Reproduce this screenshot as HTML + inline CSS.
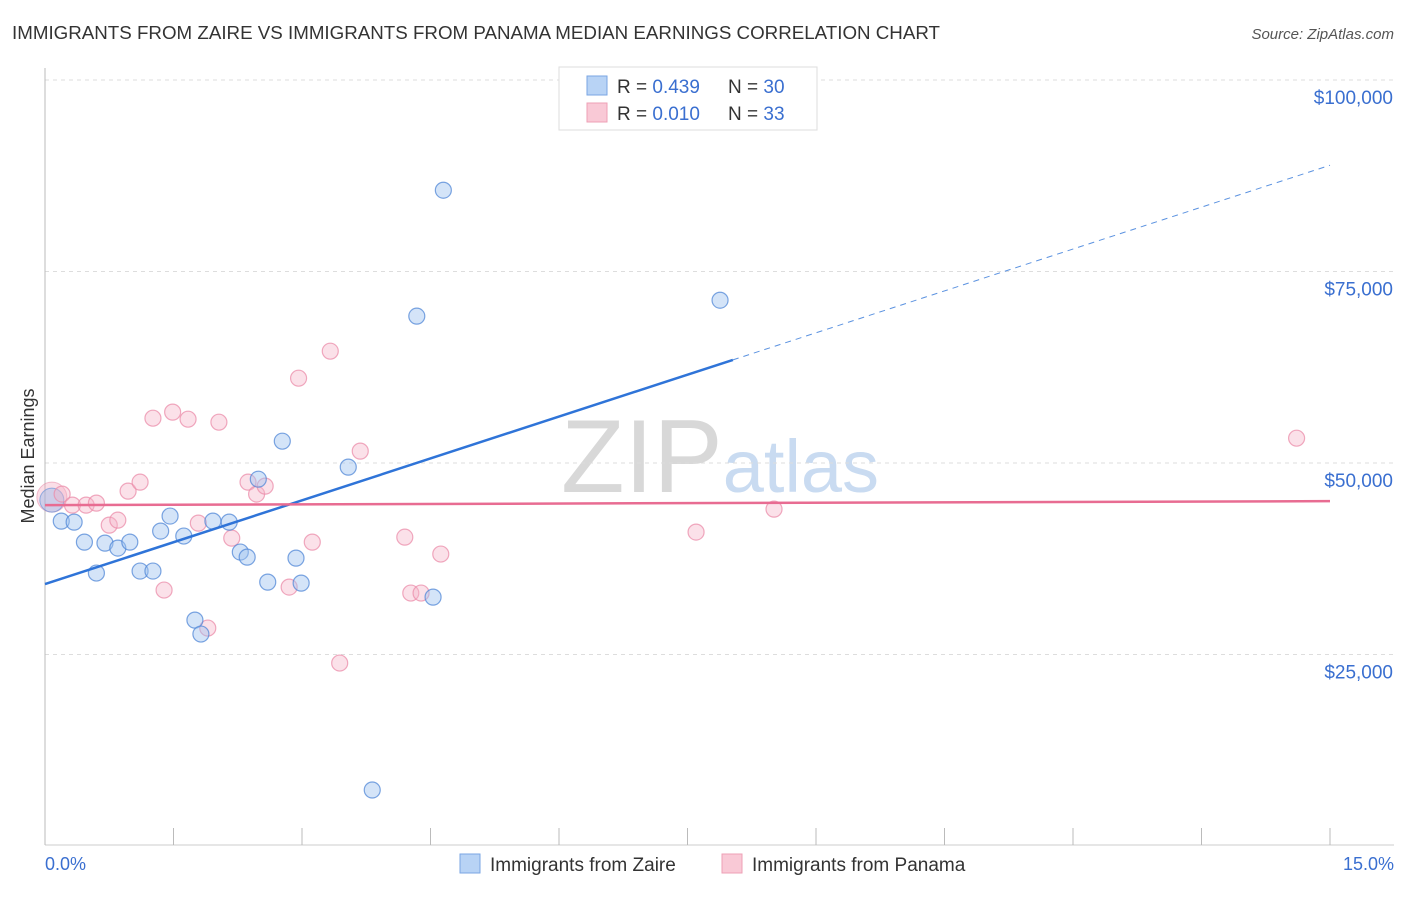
<!DOCTYPE html>
<html><head><meta charset="utf-8">
<style>
body{margin:0;background:#fff;font-family:"Liberation Sans",Arial,sans-serif;}
svg text{font-family:"Liberation Sans",Arial,sans-serif;}
</style></head>
<body>
<svg id="chart" width="1406" height="892" viewBox="0 0 1406 892">
<text x="12" y="39" font-size="18" fill="#333" textLength="928" lengthAdjust="spacingAndGlyphs">IMMIGRANTS FROM ZAIRE VS IMMIGRANTS FROM PANAMA MEDIAN EARNINGS CORRELATION CHART</text>
<text x="1394" y="39" font-size="15" fill="#555" font-style="italic" text-anchor="end">Source: ZipAtlas.com</text>
<text x="720" y="492" font-size="104" fill="#dde0e6" text-anchor="middle" font-family="Liberation Serif"><tspan fill="#d8d8d8">ZIP</tspan><tspan fill="#c9dbf1" font-family="Liberation Sans" font-size="74">atlas</tspan></text>
<g id="grid"></g>
<g id="axes"></g>
<g id="points"></g>
<g id="trends"></g>
<text transform="translate(34,456) rotate(-90)" font-size="18" fill="#333" text-anchor="middle">Median Earnings</text>
<text x="45" y="870" font-size="18" fill="#3a6fd0">0.0%</text>
<text x="1394" y="870" font-size="18" fill="#3a6fd0" text-anchor="end">15.0%</text>
<g>
<rect x="559" y="67" width="258" height="63" fill="#fff" stroke="#ddd"/>
<rect x="587" y="76" width="20" height="19" fill="#b8d3f5" stroke="#7aa6e3"/>
<rect x="587" y="103" width="20" height="19" fill="#f9c9d6" stroke="#eea0b6"/>
<text x="617" y="93" font-size="19" fill="#333">R = <tspan fill="#3a6fd0">0.439</tspan><tspan x="728">N = </tspan><tspan fill="#3a6fd0">30</tspan></text>
<text x="617" y="120" font-size="19" fill="#333">R = <tspan fill="#3a6fd0">0.010</tspan><tspan x="728">N = </tspan><tspan fill="#3a6fd0"> 33</tspan></text>
</g>
<g>
<rect x="460" y="854" width="20" height="19" fill="#b8d3f5" stroke="#7aa6e3"/>
<text x="490" y="871" font-size="19" fill="#333">Immigrants from Zaire</text>
<rect x="722" y="854" width="20" height="19" fill="#f9c9d6" stroke="#eea0b6"/>
<text x="752" y="871" font-size="19" fill="#333">Immigrants from Panama</text>
</g>
</svg>
<script>
const yTicks=[25000,50000,75000,100000];
const yTickLabels=["$25,000","$50,000","$75,000","$100,000"];
const xTicks=[0,1.5,3,4.5,6,7.5,9,10.5,12,13.5,15];
const zaireX=[0.08,0.19,0.34,0.46,0.60,0.70,0.85,0.99,1.11,1.26,1.35,1.46,1.62,1.75,1.82,1.96,2.15,2.28,2.36,2.49,2.60,2.77,2.93,2.99,3.54,3.82,4.34,4.53,4.65,7.88];
const zaireY=[45150,42410,42280,39670,35630,39540,38890,39670,35890,35890,41110,43070,40460,29490,27670,42410,42280,38370,37710,47890,34450,52850,37580,34320,49460,7310,69170,32490,85610,71250];
const panamaX=[0.08,0.20,0.32,0.48,0.60,0.75,0.85,0.97,1.11,1.26,1.39,1.49,1.67,1.79,1.90,2.03,2.18,2.37,2.47,2.57,2.85,2.96,3.12,3.33,3.44,3.68,4.20,4.27,4.39,4.62,7.60,8.51,14.61];
const panamaY=[45540,45940,44500,44500,44760,41890,42540,46330,47500,55850,33410,56640,55720,42150,28450,55330,40190,47500,45940,46980,33800,61070,39670,64600,23880,51550,40320,33020,33020,38110,40980,43980,53240];
const zaireTrend=[34190,88870];
const panamaTrend=[44500,45020];
const zaireSolidEnd=8.03;

const NS="http://www.w3.org/2000/svg";
const xs=v=>45+v/15*1285;
const ys=v=>846-v*0.00766;
function mk(tag,attrs,parent){const e=document.createElementNS(NS,tag);for(const k in attrs)e.setAttribute(k,attrs[k]);document.getElementById(parent).appendChild(e);return e;}

yTicks.forEach((t,i)=>{
  const l=mk('line',{x1:45,x2:1394,y1:ys(t),y2:ys(t),stroke:'#ddd','stroke-dasharray':'4,4'},'grid');
  
  
  const tx=mk('text',{x:1393,y:ys(t)+24,'font-size':19,fill:'#3a6fd0','text-anchor':'end'},'grid');
  tx.textContent=yTickLabels[i];
  
  
});
const ax=mk('line',{x1:45,x2:45,y1:68,y2:845,stroke:'#bbb'},'axes');


const bx=mk('line',{x1:45,x2:1394,y1:845,y2:845,stroke:'#ccc'},'axes');


xTicks.forEach(t=>{
  const l=mk('line',{x1:xs(t),x2:xs(t),y1:828,y2:845,stroke:'#bbb'},'axes');
  
  
});
const b1=mk('circle',{cx:xs(panamaX[0]),cy:ys(panamaY[0]),r:15,fill:'rgba(244,160,185,0.35)',stroke:'rgba(230,130,160,0.5)'},'points');


const b2=mk('circle',{cx:xs(zaireX[0]),cy:ys(zaireY[0]),r:12,fill:'rgba(140,180,235,0.4)',stroke:'rgba(90,140,215,0.6)'},'points');


panamaX.forEach((x,i)=>{if(i===0)return;
  const c=mk('circle',{cx:xs(x),cy:ys(panamaY[i]),r:8,fill:'rgba(246,180,200,0.4)',stroke:'rgba(235,140,170,0.75)','stroke-width':1.2},'points');
  
  
});
zaireX.forEach((x,i)=>{if(i===0)return;
  const c=mk('circle',{cx:xs(x),cy:ys(zaireY[i]),r:8,fill:'rgba(160,195,240,0.45)',stroke:'rgba(80,135,215,0.75)','stroke-width':1.2},'points');
  
  
});
const zv=x=>zaireTrend[0]+(zaireTrend[1]-zaireTrend[0])*x/15;
const t1=mk('line',{x1:xs(0),y1:ys(zv(0)),x2:xs(zaireSolidEnd),y2:ys(zv(zaireSolidEnd)),stroke:'#2f74d8','stroke-width':2.5},'trends');


const t2=mk('line',{x1:xs(zaireSolidEnd),y1:ys(zv(zaireSolidEnd)),x2:xs(15),y2:ys(zv(15)),stroke:'#5b92e0','stroke-width':1,'stroke-dasharray':'6,5'},'trends');


const t3=mk('line',{x1:xs(0),y1:ys(panamaTrend[0]),x2:xs(15),y2:ys(panamaTrend[1]),stroke:'#e86c92','stroke-width':2.5},'trends');


</script>
</body></html>
